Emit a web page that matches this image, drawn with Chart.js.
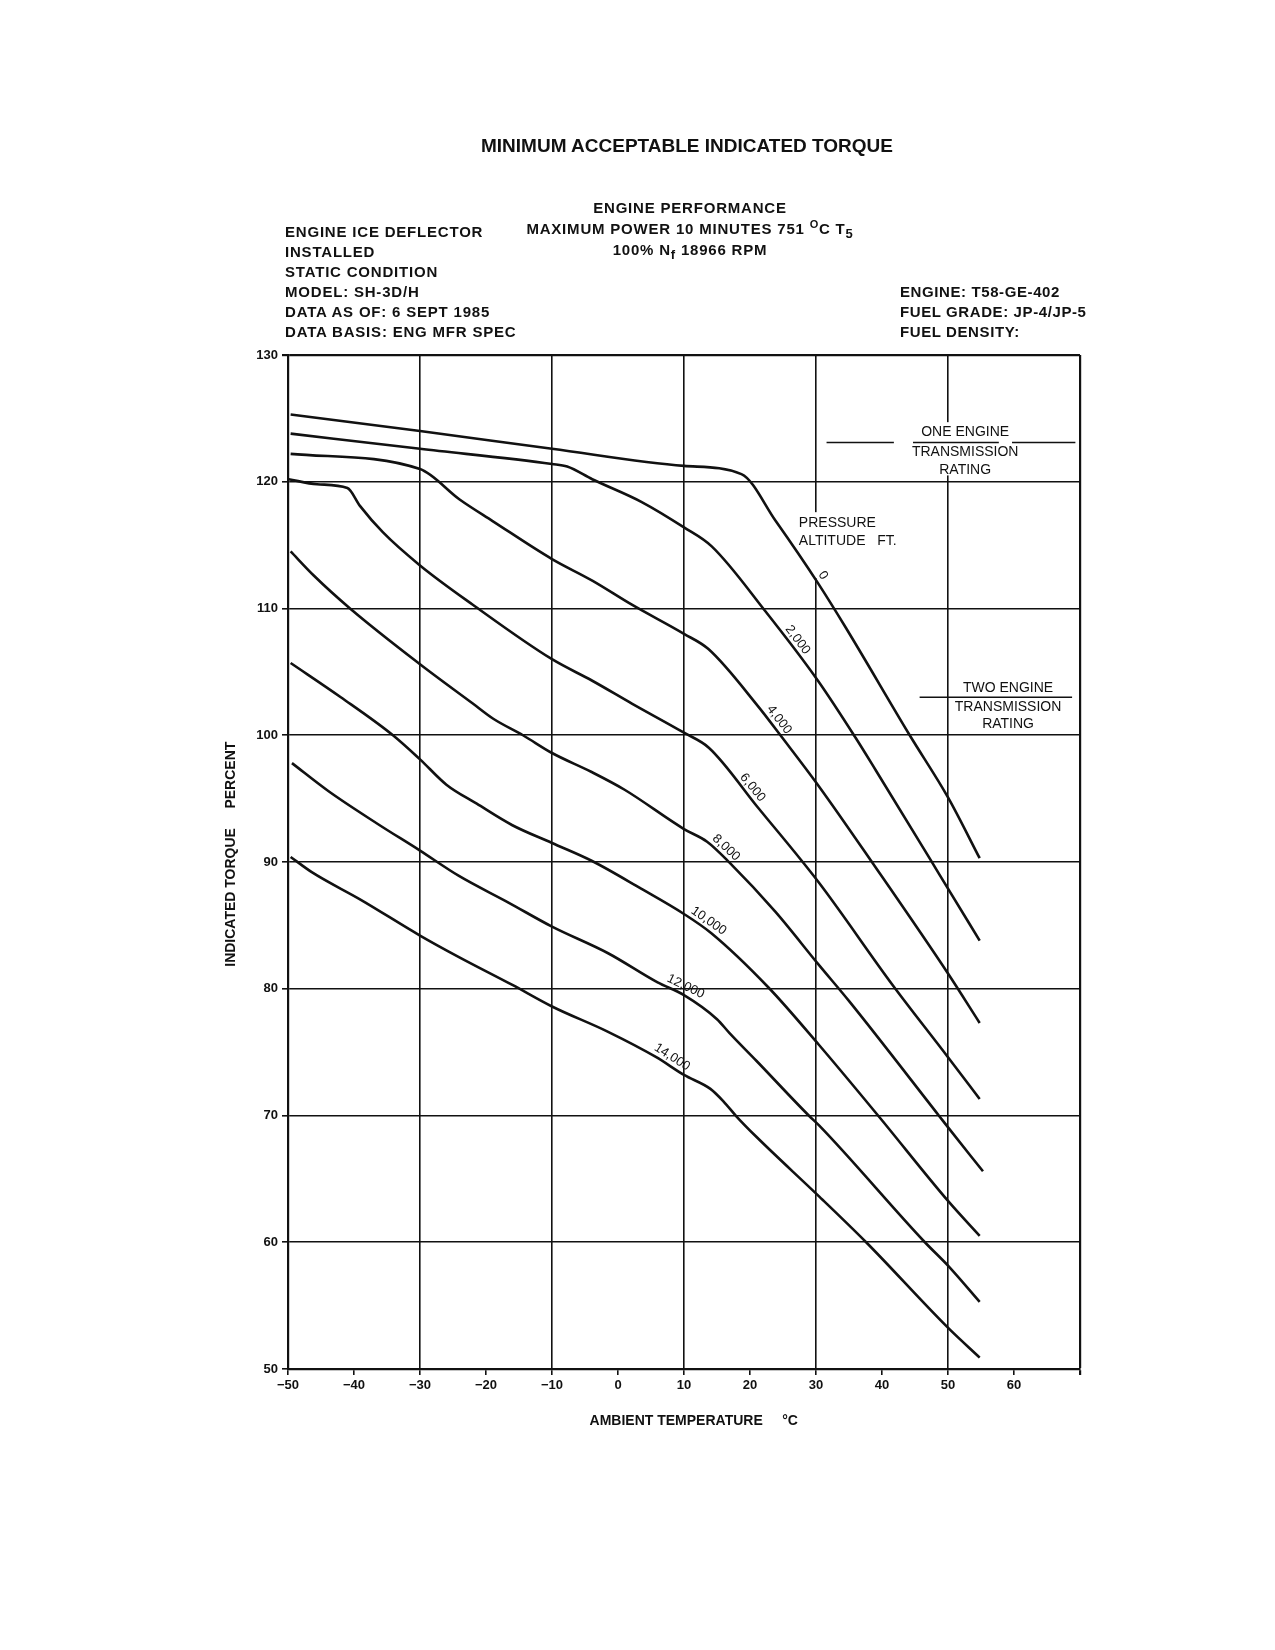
<!DOCTYPE html>
<html>
<head>
<meta charset="utf-8">
<title>Minimum Acceptable Indicated Torque</title>
<script src="https://cdn.jsdelivr.net/npm/chart.js@4.4.1/dist/chart.umd.min.js"></script>
<style>
  body { margin: 0; background: #fff; }
  #page { position: relative; width: 1275px; height: 1650px; font-family: "Liberation Sans", Arial, sans-serif; color: #111; }
  #page canvas { position: absolute; left: 0; top: 0; }
  .txt { position: absolute; font-weight: bold; white-space: nowrap; z-index: 2; }
  #title { left: 687px; top: 146px; transform: translate(-50%, -50%); font-size: 19px; }
  #leftBlock { left: 285px; top: 222px; font-size: 15px; letter-spacing: 0.8px; line-height: 20px; }
  #centerBlock { left: 690px; top: 198px; transform: translateX(-50%); font-size: 15px; letter-spacing: 0.8px; line-height: 20.5px; text-align: center; }
  #rightBlock { left: 900px; top: 282px; font-size: 15px; letter-spacing: 0.6px; line-height: 20px; }
  .up { position: relative; top: -6px; font-size: 11px; }
  .dn { position: relative; top: 4px; font-size: 13px; }
</style>
</head>
<body>
<div id="page">
  <canvas id="torqueChart" width="1275" height="1650"></canvas>
  <div class="txt" id="title">MINIMUM ACCEPTABLE INDICATED TORQUE</div>
  <div class="txt" id="leftBlock">ENGINE ICE DEFLECTOR<br>INSTALLED<br>STATIC CONDITION<br>MODEL: SH-3D/H<br>DATA AS OF: 6 SEPT 1985<br>DATA BASIS: ENG MFR SPEC</div>
  <div class="txt" id="centerBlock">ENGINE PERFORMANCE<br>MAXIMUM POWER 10 MINUTES 751 <span class="up">O</span>C T<span class="dn">5</span><br>100% N<span class="dn">f</span> 18966 RPM</div>
  <div class="txt" id="rightBlock">ENGINE: T58-GE-402<br>FUEL GRADE: JP-4/JP-5<br>FUEL DENSITY:</div>
</div>
<script>
// curves, one per pressure altitude (ft)
const altitudeLabels = ['0', '2,000', '4,000', '6,000', '8,000', '10,000', '12,000', '14,000'];

const temp0 = [-49.6, -30, -10, 10, 18.7, 23.9, 30.3, 34.5, 44.2, 50, 54.8];
const torque0 = [125.3, 124.0, 122.6, 121.25, 120.6, 116.9, 112.0, 108.5, 100.0, 95.1, 90.3];

const temp2000 = [-49.6, -30, -10, -7.7, -3.9, 3.6, 10, 14.2, 22.3, 30.3, 36, 39.1, 47.2, 50, 54.8];
const torque2000 = [123.8, 122.6, 121.4, 121.2, 120.2, 118.4, 116.4, 114.9, 109.8, 104.3, 99.8, 97.2, 90.3, 87.9, 83.8];

const temp4000 = [-49.6, -30, -24, -19, -10, -3.9, 2.1, 10, 13.7, 21.2, 24.9, 30.4, 38.6, 50, 54.8];
const torque4000 = [122.2, 121.0, 118.6, 116.9, 113.9, 112.2, 110.3, 108.0, 106.8, 102.3, 99.8, 96.0, 89.9, 81.2, 77.3];

const temp6000 = [-49.9, -45.6, -41, -39.1, -35.6, -30, -22, -10, -3.9, 2.1, 10, 13.8, 21.2, 30.4, 41.6, 50, 54.8];
const torque6000 = [120.2, 119.8, 119.5, 118.1, 116.0, 113.4, 110.3, 106.0, 104.3, 102.5, 100.2, 99.0, 94.3, 88.4, 80.3, 74.6, 71.3];

const temp8000 = [-49.6, -46.1, -40.6, -30, -22, -18.9, -14.4, -10, -4, 1, 10, 13.5, 16.9, 23.8, 30.4, 35.05, 48.6, 50.1, 55.3];
const torque8000 = [114.5, 112.6, 110.0, 105.6, 102.5, 101.3, 100.0, 98.6, 97.1, 95.7, 92.6, 91.6, 89.95, 86.1, 81.9, 79.0, 70.0, 69.0, 65.6];

const temp10000 = [-49.6, -42, -34.1, -30, -26, -21.4, -16, -10, -4, 3.5, 10, 14.1, 22.8, 30.4, 39.4, 50.1, 54.8];
const torque10000 = [105.7, 103.0, 100.0, 98.1, 96.1, 94.6, 92.9, 91.5, 90.1, 87.9, 85.9, 84.4, 80.1, 75.6, 70.0, 63.2, 60.5];

const temp12000 = [-49.4, -43.9, -36.4, -30, -24.1, -16.6, -10, -1.5, 6, 10, 15, 16.9, 21, 28.9, 30.5, 46.5, 50.1, 54.8];
const torque12000 = [97.8, 95.6, 93.0, 90.9, 88.9, 86.8, 84.9, 82.8, 80.5, 79.5, 77.6, 76.5, 74.3, 70.0, 69.2, 60.0, 58.1, 55.3];

const temp14000 = [-49.6, -46.4, -38.9, -30, -24.1, -16, -10, -1.5, 5.8, 10, 14, 16, 18, 21, 30.5, 37.6, 50.1, 54.8];
const torque14000 = [90.4, 89.2, 87.0, 84.2, 82.5, 80.3, 78.6, 76.6, 74.6, 73.2, 72.1, 71.1, 69.9, 68.3, 63.6, 60.0, 53.2, 50.9];

// transmission rating marks
const oneEngineLevel = 123.1;
const oneEngineSpans = [[31.6, 41.8], [44.7, 57.7], [59.7, 69.3]];
const twoEngineLevel = 103.0;
const twoEngineSpans = [[45.7, 68.8]];

// axes
const xTickValues = [-50, -40, -30, -20, -10, 0, 10, 20, 30, 40, 50, 60];
const yTickValues = [50, 60, 70, 80, 90, 100, 110, 120, 130];

const curveTemps = [temp0, temp2000, temp4000, temp6000, temp8000, temp10000, temp12000, temp14000];
const curveTorques = [torque0, torque2000, torque4000, torque6000, torque8000, torque10000, torque12000, torque14000];

const datasets = curveTemps.map((temps, i) => ({
  label: altitudeLabels[i] + ' FT',
  data: temps.map((t, j) => ({ x: t, y: curveTorques[i][j] })),
  showLine: true,
  borderColor: '#111',
  borderWidth: 2.6,
  pointRadius: 0,
  cubicInterpolationMode: 'monotone'
}));

function addRating(spans, level, name) {
  spans.forEach(s => {
    datasets.push({
      label: name,
      data: [{ x: s[0], y: level }, { x: s[1], y: level }],
      showLine: true,
      borderColor: '#111',
      borderWidth: 1.6,
      pointRadius: 0
    });
  });
}
addRating(oneEngineSpans, oneEngineLevel, 'one engine rating');
addRating(twoEngineSpans, twoEngineLevel, 'two engine rating');

// temperature along each curve where its altitude tag sits
const tagTemps = [30.0, 26.2, 23.4, 19.4, 15.5, 13.0, 9.7, 7.5];

function curveAt(chart, i, t) {
  const xs = chart.scales.x, ys = chart.scales.y;
  const temps = curveTemps[i], vals = curveTorques[i];
  let k = 0;
  while (k < temps.length - 2 && temps[k + 1] < t) k++;
  const f = (t - temps[k]) / (temps[k + 1] - temps[k]);
  const v = vals[k] + f * (vals[k + 1] - vals[k]);
  const dx = xs.getPixelForValue(temps[k + 1]) - xs.getPixelForValue(temps[k]);
  const dy = ys.getPixelForValue(vals[k + 1]) - ys.getPixelForValue(vals[k]);
  return { px: xs.getPixelForValue(t), py: ys.getPixelForValue(v), angle: Math.atan2(dy, dx) };
}

const sheetText = {
  id: 'sheetText',
  beforeDatasetsDraw(chart) {
    const { ctx, scales: { x, y } } = chart;
    ctx.save();
    ctx.fillStyle = '#fff';
    // the grid is broken under the printed notes
    ctx.fillRect(x.getPixelForValue(30) - 3, y.getPixelForValue(117.6), 6, y.getPixelForValue(112.4) - y.getPixelForValue(117.6));
    ctx.fillRect(x.getPixelForValue(50) - 3, y.getPixelForValue(124.7), 6, y.getPixelForValue(120.5) - y.getPixelForValue(124.7));
    ctx.restore();
  },
  afterDatasetsDraw(chart) {
    const { ctx, scales: { x, y } } = chart;
    ctx.save();
    ctx.fillStyle = '#111';
    ctx.font = '14px "Liberation Sans", Arial, sans-serif';
    ctx.textBaseline = 'middle';

    ctx.textAlign = 'center';
    ctx.fillText('ONE ENGINE', x.getPixelForValue(52.6), y.getPixelForValue(123.9));
    ctx.fillText('TRANSMISSION', x.getPixelForValue(52.6), y.getPixelForValue(122.3));
    ctx.fillText('RATING', x.getPixelForValue(52.6), y.getPixelForValue(120.9));
    ctx.fillText('TWO ENGINE', x.getPixelForValue(59.1), y.getPixelForValue(103.7));
    ctx.fillText('TRANSMISSION', x.getPixelForValue(59.1), y.getPixelForValue(102.2));
    ctx.fillText('RATING', x.getPixelForValue(59.1), y.getPixelForValue(100.9));

    ctx.textAlign = 'left';
    ctx.fillText('PRESSURE', x.getPixelForValue(27.4), y.getPixelForValue(116.7));
    ctx.fillText('ALTITUDE   FT.', x.getPixelForValue(27.4), y.getPixelForValue(115.3));

    // altitude tags riding just above their curves
    ctx.font = '13px "Liberation Sans", Arial, sans-serif';
    ctx.textAlign = 'center';
    ctx.textBaseline = 'bottom';
    tagTemps.forEach((t, i) => {
      const p = curveAt(chart, i, t);
      ctx.save();
      ctx.translate(p.px, p.py);
      ctx.rotate(p.angle);
      ctx.fillText(altitudeLabels[i], 0, -2);
      ctx.restore();
    });
    ctx.restore();
  }
};

const ctx = document.getElementById('torqueChart').getContext('2d');
new Chart(ctx, {
  type: 'scatter',
  data: { datasets: datasets },
  options: {
    responsive: false,
    animation: false,
    devicePixelRatio: 1,
    layout: { padding: { left: 200, right: 195, top: 355, bottom: 211 } },
    plugins: { legend: { display: false }, tooltip: { enabled: false } },
    scales: {
      x: {
        type: 'linear',
        min: -50,
        max: 70,
        afterBuildTicks: axis => { axis.ticks = xTickValues.concat([70]).map(v => ({ value: v })); },
        afterFit: axis => { axis.height = 70; },
        grid: {
          color: c => ((c.tick.value + 50) % 20 === 0 ? '#111' : 'rgba(0,0,0,0)'),
          lineWidth: c => (c.tick.value === 70 ? 2.2 : 1.6),
          tickColor: '#111',
          tickLength: 6
        },
        border: { display: true, color: '#111', width: 2.2 },
        ticks: {
          color: '#111',
          padding: 3,
          maxRotation: 0,
          autoSkip: false,
          font: { family: '"Liberation Sans", Arial, sans-serif', size: 13, weight: 'bold' },
          callback: v => (v === 70 ? '' : String(v).replace('-', '\u2212'))
        },
        title: {
          display: true,
          text: '     AMBIENT TEMPERATURE     \u00B0C',
          color: '#111',
          padding: { top: 0, bottom: 9 },
          font: { family: '"Liberation Sans", Arial, sans-serif', size: 14, weight: 'bold' }
        }
      },
      y: {
        type: 'linear',
        min: 50,
        max: 130,
        afterBuildTicks: axis => { axis.ticks = yTickValues.map(v => ({ value: v })); },
        afterFit: axis => { axis.width = 88; },
        grid: {
          color: '#111',
          lineWidth: c => (c.tick.value === 130 ? 2.2 : 1.6),
          tickColor: '#111',
          tickLength: 6
        },
        border: { display: true, color: '#111', width: 2.2 },
        ticks: {
          color: '#111',
          padding: 4,
          font: { family: '"Liberation Sans", Arial, sans-serif', size: 13, weight: 'bold' }
        },
        title: {
          display: true,
          text: '    INDICATED TORQUE     PERCENT',
          color: '#111',
          padding: { top: 23, bottom: 0 },
          font: { family: '"Liberation Sans", Arial, sans-serif', size: 14, weight: 'bold' }
        }
      }
    }
  },
  plugins: [sheetText]
});
</script>
</body>
</html>
